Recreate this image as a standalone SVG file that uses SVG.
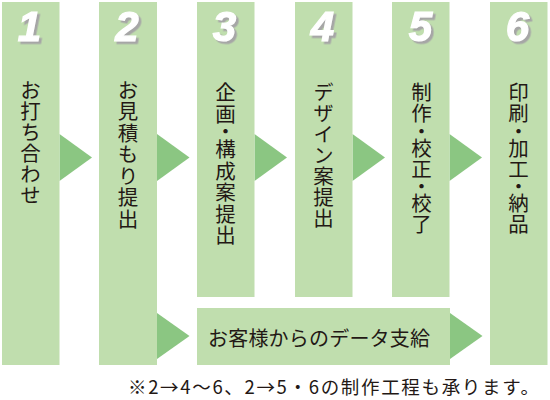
<svg xmlns="http://www.w3.org/2000/svg" width="550" height="400" viewBox="0 0 550 400">
<defs>
<filter id="sh" x="-20%" y="-20%" width="160%" height="160%">
<feDropShadow dx="2.5" dy="2.5" stdDeviation="0.3" flood-color="#a6a6a6" flood-opacity="1"/>
</filter>
</defs>
<style>
.col{fill:#c0deae}
.arr{fill:#8bc682}
.num{font-family:"Liberation Sans",Arial,sans-serif;font-weight:bold;font-style:italic;font-size:42px;text-anchor:middle;fill:#ffffff;stroke:#ffffff;stroke-width:1.2;filter:url(#sh)}
.v{font-family:"Noto Sans CJK JP","Noto Sans",sans-serif;font-size:20.5px;fill:#231815;writing-mode:vertical-rl;text-orientation:upright}
.h{font-family:"Noto Sans CJK JP","Noto Sans",sans-serif;font-size:20px;fill:#231815;dominant-baseline:central}
.f{font-family:"Noto Sans CJK JP","Noto Sans",sans-serif;font-size:18.5px;fill:#231815;dominant-baseline:central}
.a{letter-spacing:1px}
.b{letter-spacing:-2.5px}
.c{letter-spacing:-3.5px}
.d{letter-spacing:-4px}
</style>
<rect width="550" height="400" fill="#ffffff"/>
<g id="connectors">
<polygon class="arr" points="59.5,134 92,157.5 59.5,181"/>
<polygon class="arr" points="157,134 189.5,157.5 157,181"/>
<polygon class="arr" points="254.5,134 287,157.5 254.5,181"/>
<polygon class="arr" points="352.5,134 385,157.5 352.5,181"/>
<polygon class="arr" points="449.5,134 482,157.5 449.5,181"/>
<polygon class="arr" points="157,313 189.5,336 157,359"/>
<polygon class="arr" points="450,313 482.5,336 450,359"/>
</g>
<g id="step1">
<rect class="col" x="2" y="2" width="57.5" height="363"/>
<text class="num" x="29.5" y="41">1</text>
<text class="v" x="30.5" y="79.75" letter-spacing="0.5">お打ち合わせ</text>
</g>
<g id="step2">
<rect class="col" x="99" y="2" width="58" height="363"/>
<text class="num" x="127" y="41">2</text>
<text class="v" x="128" y="79.75" letter-spacing="1">お見積もり提出</text>
</g>
<g id="step3">
<rect class="col" x="197" y="2" width="57.5" height="295"/>
<text class="num" x="224.5" y="41">3</text>
<text class="v" x="225.5" y="82.25"><tspan class="a">企</tspan><tspan class="c">画</tspan><tspan class="b">・</tspan><tspan class="a">構成案提出</tspan></text>
</g>
<g id="step4">
<rect class="col" x="295" y="2" width="57.5" height="295"/>
<text class="num" x="322.5" y="41">4</text>
<text class="v" x="323.5" y="81.75" letter-spacing="0.5">デザイン案提出</text>
</g>
<g id="step5">
<rect class="col" x="392" y="2" width="57.5" height="295"/>
<text class="num" x="420.5" y="41">5</text>
<text class="v" x="421.5" y="81.75"><tspan>制</tspan><tspan class="b">作</tspan><tspan class="c">・</tspan><tspan class="a">校</tspan><tspan class="d">正</tspan><tspan class="c">・</tspan><tspan class="a">校</tspan><tspan>了</tspan></text>
</g>
<g id="step6">
<rect class="col" x="490" y="2" width="57.5" height="363"/>
<text class="num" x="517.5" y="41">6</text>
<text class="v" x="518.5" y="81.75"><tspan>印</tspan><tspan class="b">刷</tspan><tspan class="c">・</tspan><tspan class="a">加</tspan><tspan class="d">工</tspan><tspan class="c">・</tspan><tspan class="a">納</tspan><tspan>品</tspan></text>
</g>
<g id="data-supply">
<rect class="col" x="197" y="308" width="253" height="57"/>
<text class="h" x="208" y="337" textLength="222" lengthAdjust="spacing">お客様からのデータ支給</text>
</g>
<g id="note">
<text class="f" x="128" y="386" textLength="411" lengthAdjust="spacing">※2→4〜6、2→5・6の制作工程も承ります。</text>
</g>
</svg>
